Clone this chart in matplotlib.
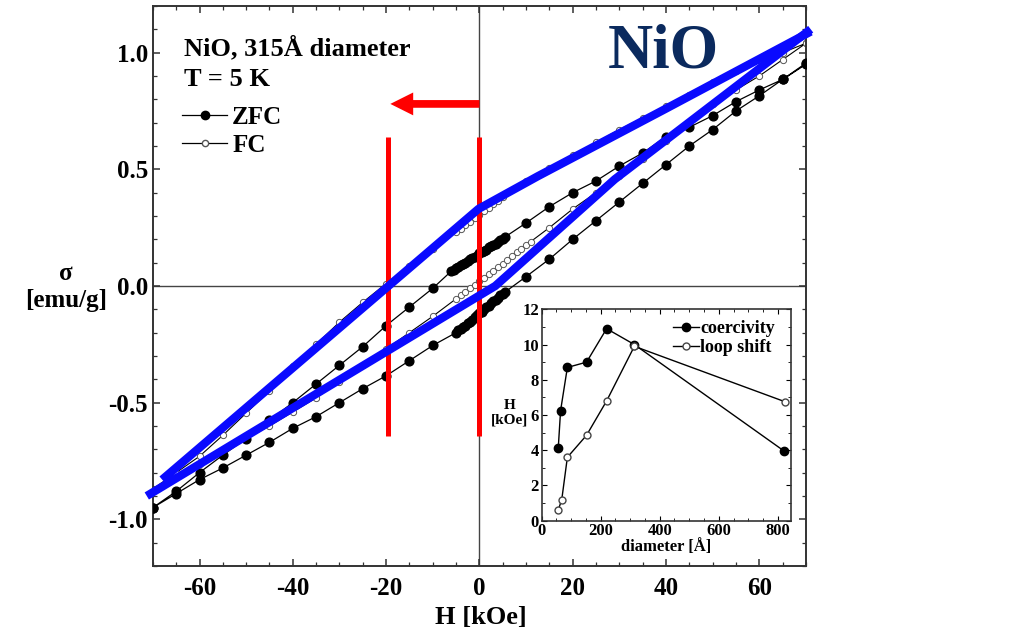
# coding: utf-8
import matplotlib
matplotlib.use('Agg')
import matplotlib.pyplot as plt
from matplotlib.lines import Line2D
from matplotlib.ticker import MultipleLocator, FormatStrFormatter

plt.rcParams['font.family'] = ['Liberation Serif', 'DejaVu Serif']
plt.rcParams['font.weight'] = 'bold'
plt.rcParams['axes.unicode_minus'] = False

# ZFC loop: field going down, then back up
zfc_h_down = [70, 65, 60, 55, 50, 45, 40, 35, 30, 25, 20, 15, 10, 5.5, 5, 4.5, 4, 3.5, 3, 2.5, 2, 1.5, 1,
              0.5, 0, -0.5, -1, -1.5, -2, -2.5, -3, -3.5, -4, -4.5, -5, -5.5, -6,
              -10, -15, -20, -25, -30, -35, -40, -45, -50, -55, -60, -65, -70]
zfc_s_down = [0.95, 0.885, 0.84, 0.79, 0.73, 0.68, 0.64, 0.57, 0.514, 0.45, 0.40, 0.34, 0.27, 0.21, 0.20,
              0.195, 0.19, 0.18, 0.175, 0.17, 0.165, 0.155, 0.15, 0.145, 0.14, 0.13, 0.125, 0.12, 0.115,
              0.105, 0.10, 0.095, 0.09, 0.08, 0.075, 0.07, 0.064,
              -0.01, -0.09, -0.17, -0.26, -0.34, -0.42, -0.50, -0.575, -0.654, -0.725, -0.80, -0.88, -0.95]
zfc_h_up = [-70, -65, -60, -55, -50, -45, -40, -35, -30, -25, -20, -15, -10, -5, -4.5, -4, -3.5, -3, -2.5,
            -2, -1.5, -1, -0.5, 0, 0.5, 1, 1.5, 2, 2.5, 3, 3.5, 4, 4.5, 5, 5.5,
            10, 15, 20, 25, 30, 35, 40, 45, 50, 55, 60, 65, 70]
zfc_s_up = [-0.95, -0.89, -0.83, -0.78, -0.725, -0.67, -0.61, -0.56, -0.50, -0.44, -0.385, -0.32, -0.255,
            -0.20, -0.19, -0.185, -0.175, -0.17, -0.16, -0.155, -0.145, -0.135, -0.125, -0.115, -0.11,
            -0.10, -0.09, -0.085, -0.075, -0.065, -0.06, -0.05, -0.04, -0.035, -0.026,
            0.04, 0.115, 0.20, 0.28, 0.36, 0.44, 0.52, 0.60, 0.67, 0.75, 0.815, 0.885, 0.955]

# FC loop
fc_h_down = [70, 65, 60, 55, 50, 45, 40, 35, 30, 25, 20, 15, 10, 5, 4, 3, 2, 1, 0, -1, -2, -3, -4, -5,
             -10, -15, -20, -25, -30, -35, -40, -45, -50, -55, -60, -65, -70]
fc_s_down = [1.04, 1.0, 0.97, 0.92, 0.875, 0.82, 0.77, 0.72, 0.67, 0.615, 0.56, 0.505, 0.45, 0.38, 0.365,
             0.35, 0.335, 0.32, 0.305, 0.29, 0.275, 0.26, 0.245, 0.23, 0.16, 0.085, 0.01, -0.07, -0.155,
             -0.25, -0.345, -0.45, -0.545, -0.64, -0.73, -0.80, -0.87]
fc_h_up = [-70, -65, -60, -55, -50, -45, -40, -35, -30, -25, -20, -15, -10, -5, -4, -3, -2, -1, 0,
           1, 2, 3, 4, 5, 6, 7, 8, 9, 10, 11, 15, 20, 25, 30, 35, 40, 45, 50, 55, 60, 65, 70]
fc_s_up = [-0.87, -0.82, -0.765, -0.71, -0.655, -0.60, -0.54, -0.48, -0.41, -0.34, -0.27, -0.20, -0.13,
           -0.055, -0.04, -0.025, -0.01, 0.005, 0.02, 0.035, 0.05, 0.065, 0.08, 0.095, 0.11, 0.13, 0.145,
           0.16, 0.175, 0.19, 0.25, 0.33, 0.40, 0.47, 0.545, 0.62, 0.70, 0.78, 0.84, 0.90, 0.97, 1.04]

# inset: coercivity and loop shift vs diameter
diam_coer = [56, 64, 87, 152, 220, 314, 821]
coer = [4.1, 6.25, 8.7, 9.0, 10.9, 10.0, 3.96]
diam_shift = [56, 68, 87, 152, 220, 314, 825]
shift = [0.6, 1.2, 3.6, 4.85, 6.8, 9.9, 6.75]

# hand drawn overlay (blue loop outline, red markers)
blue_a_h = [71, 40, 12.5, -0.2, -68]
blue_a_s = [1.09, 0.76, 0.47, 0.33, -0.83]
blue_b_h = [71, 29, 3.4, -71.3]
blue_b_s = [1.1, 0.457, 0.0, -0.9]
red_h = [-19.5, 0.0]
red_lo, red_hi = -0.645, 0.64
arrow_y = 0.78
arrow_from, arrow_to = 0.0, -19.1

fig = plt.figure(figsize=(10.19, 6.35), dpi=100)
ax = fig.add_axes([0.150, 0.1087, 0.641, 0.882])

ax.axhline(0, color='#444444', lw=1.0, zorder=1)
ax.axvline(0, color='#444444', lw=1.0, zorder=1)

ax.plot(zfc_h_down + zfc_h_up, zfc_s_down + zfc_s_up, '-o', color='black', lw=0.9,
        ms=6.3, mfc='black', mec='black', zorder=3)
ax.plot(fc_h_down + fc_h_up, fc_s_down + fc_s_up, '-o', color='black', lw=0.8,
        ms=4.5, mfc='white', mec='#555555', mew=0.7, zorder=2)

ax.set_xlim(-70, 70)
ax.set_ylim(-1.2, 1.2)
ax.xaxis.set_major_locator(MultipleLocator(20))
ax.xaxis.set_minor_locator(MultipleLocator(5))
ax.yaxis.set_major_locator(MultipleLocator(0.5))
ax.yaxis.set_minor_locator(MultipleLocator(0.1))
ax.yaxis.set_major_formatter(FormatStrFormatter('%.1f'))
ax.tick_params(which='both', direction='in', top=True, right=True, labelsize=18, colors='#333333',
               labelcolor='black')
ax.tick_params(which='major', length=5, width=1.1)
ax.tick_params(which='minor', length=3, width=0.9)
for lab in ax.get_xticklabels() + ax.get_yticklabels():
    lab.set_fontweight('bold')
for sp in ax.spines.values():
    sp.set_color('#333333')
    sp.set_linewidth(1.4)
ax.tick_params(axis='x', pad=8)

ax.text(-63.4, 0.99, 'NiO, 315Å diameter', fontsize=19, fontweight='bold', va='baseline')
ax.text(-63.4, 0.855, 'T = 5 K', fontsize=19, fontweight='bold', va='baseline')
handles = [Line2D([], [], color='black', lw=0.9, marker='o', ms=6, mfc='black'),
           Line2D([], [], color='black', lw=0.9, marker='o', ms=4.5, mfc='white', mec='#555555')]
ax.legend(handles, ['ZFC', 'FC'], loc='upper left', bbox_to_anchor=(0.045, 0.822), frameon=False,
          borderpad=0, borderaxespad=0, handlelength=1.8, handletextpad=0.2, labelspacing=0.2,
          prop={'size': 18, 'weight': 'bold'})

# overlay
for x in red_h:
    ax.plot([x, x], [red_lo, red_hi], color='red', lw=3.6, solid_capstyle='butt', zorder=5)
ax.arrow(arrow_from, arrow_y, arrow_to - arrow_from, 0, width=0.033, head_width=0.098,
         head_length=4.9, length_includes_head=True, color='red', lw=0, zorder=5)
ax.plot(blue_a_h, blue_a_s, color='#0a0aff', lw=6, solid_capstyle='butt', solid_joinstyle='miter',
        clip_on=False, zorder=6)
ax.plot(blue_b_h, blue_b_s, color='#0a0aff', lw=6, solid_capstyle='butt', solid_joinstyle='miter',
        clip_on=False, zorder=6)
ax.text(39.5, 0.936, 'NiO', fontsize=45, fontweight='bold', color='#0b2a5e', ha='center',
        va='baseline', zorder=7)

fig.text(0.065, 0.548, 'σ\n[emu/g]', fontsize=18, fontweight='bold', ha='center', va='center')
fig.text(0.472, 0.028, 'H [kOe]', fontsize=19, fontweight='bold', ha='center', va='center')

# inset
axi = fig.add_axes([0.5316, 0.18, 0.2447, 0.3329])
axi.plot(diam_coer, coer, '-o', color='black', lw=1.0, ms=6, mfc='black', label='coercivity')
axi.plot(diam_shift, shift, '-o', color='black', lw=1.0, ms=5, mfc='white', mec='#444444',
         label='loop shift')
axi.set_xlim(0, 845)
axi.set_ylim(0, 12)
axi.xaxis.set_major_locator(MultipleLocator(200))
axi.xaxis.set_minor_locator(MultipleLocator(50))
axi.yaxis.set_major_locator(MultipleLocator(2))
axi.yaxis.set_minor_locator(MultipleLocator(1))
axi.tick_params(which='both', direction='in', top=True, right=True, labelsize=12, pad=2)
axi.tick_params(which='major', length=3.5)
axi.tick_params(which='minor', length=2)
for lab in axi.get_xticklabels() + axi.get_yticklabels():
    lab.set_fontweight('bold')
for sp in axi.spines.values():
    sp.set_color('#333333')
    sp.set_linewidth(1.2)
axi.set_xlabel('diameter [Å]', fontsize=12, fontweight='bold', labelpad=0)
fig.text(0.5, 0.35, 'H\n[kOe]', fontsize=11, fontweight='bold', ha='center', va='center')
axi.legend(loc='upper right', bbox_to_anchor=(0.98, 1.0), frameon=False, borderpad=0.1,
           handlelength=1.4, handletextpad=0.1, labelspacing=0.1, prop={'size': 13, 'weight': 'bold'})

fig.savefig('out.png', dpi=100)
